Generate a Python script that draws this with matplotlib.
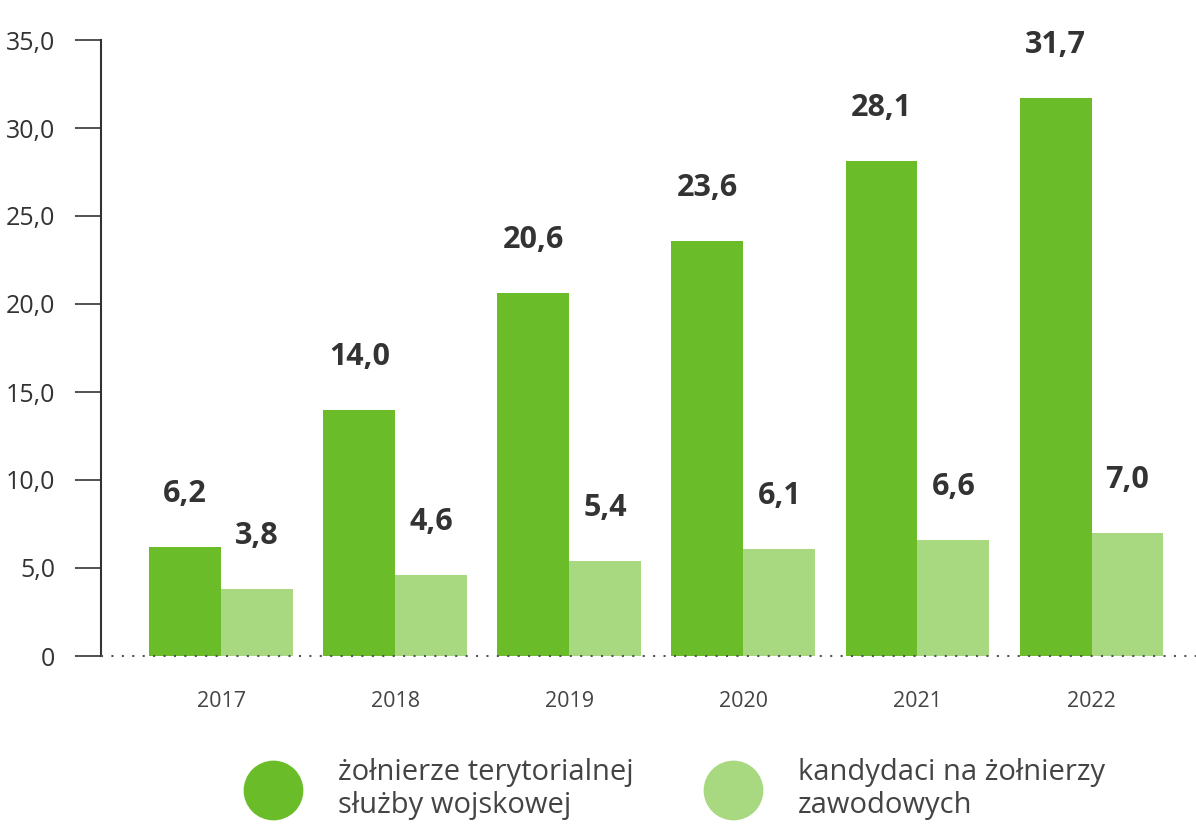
import matplotlib
matplotlib.use('Agg')
import matplotlib.pyplot as plt
import numpy as np
from matplotlib.lines import Line2D

years = ['2017', '2018', '2019', '2020', '2021', '2022']
wot = [6.2, 14.0, 20.6, 23.6, 28.1, 31.7]
kandydaci = [3.8, 4.6, 5.4, 6.1, 6.6, 7.0]
series_names = ['żołnierze terytorialnej\nsłużby wojskowej',
                'kandydaci na żołnierzy\nzawodowych']

dark = '#6abd29'
light = '#a8d880'
txt = '#333333'

plt.rcParams['font.family'] = ['Open Sans', 'DejaVu Sans']

fig = plt.figure(figsize=(11.96, 8.27), dpi=100)
ax = fig.add_axes([101 / 1196, 171 / 827, 1 - 101 / 1196, 616 / 827])

x = np.arange(len(years))
w = 0.413
b1 = ax.bar(x - w / 2, wot, w, color=dark, zorder=2)
b2 = ax.bar(x + w / 2, kandydaci, w, color=light, zorder=2)

# value labels
for bars, vals in ((b1, wot), (b2, kandydaci)):
    for r, v in zip(bars, vals):
        ax.annotate(f'{v:.1f}'.replace('.', ','),
                    (r.get_x() + r.get_width() / 2, v),
                    xytext=(0, 53), textcoords='offset pixels',
                    ha='center', va='center', fontsize=22,
                    fontweight='bold', color=txt)

ax.set_xlim(-0.69, 5.6)
ax.set_ylim(0, 35)

yt = np.arange(0, 36, 5)
ax.set_yticks(yt)
ax.set_yticklabels(['0'] + [f'{v:.1f}'.replace('.', ',') for v in yt[1:]])
ax.tick_params(axis='y', length=19, width=1.2, color=txt, pad=14,
               labelsize=18, labelcolor=txt)

ax.set_xticks(x)
ax.set_xticklabels(years)
ax.tick_params(axis='x', length=0, pad=25, labelsize=15.5, labelcolor='#444444')

for s in ('top', 'right', 'bottom'):
    ax.spines[s].set_visible(False)
ax.spines['left'].set_color(txt)
ax.spines['left'].set_linewidth(1.5)

# dotted zero line
ax.axhline(0, color='#555555', lw=1.5, linestyle=(0, (1, 4)), zorder=3,
           clip_on=False)

# legend: one entry per series, placed separately
for c, name, left in ((dark, series_names[0], 255.5), (light, series_names[1], 715.5)):
    h = Line2D([], [], marker='o', linestyle='', markersize=42,
               markerfacecolor=c, markeredgecolor=c)
    fig.legend([h], [name], loc='center left',
               bbox_to_anchor=(left / 1196, 1 - 789 / 827), frameon=False,
               prop={'size': 21}, labelcolor='#444444',
               handlelength=1.2, handletextpad=1.63,
               borderpad=0, borderaxespad=0, labelspacing=0.2)

fig.savefig('out.png', dpi=100)
